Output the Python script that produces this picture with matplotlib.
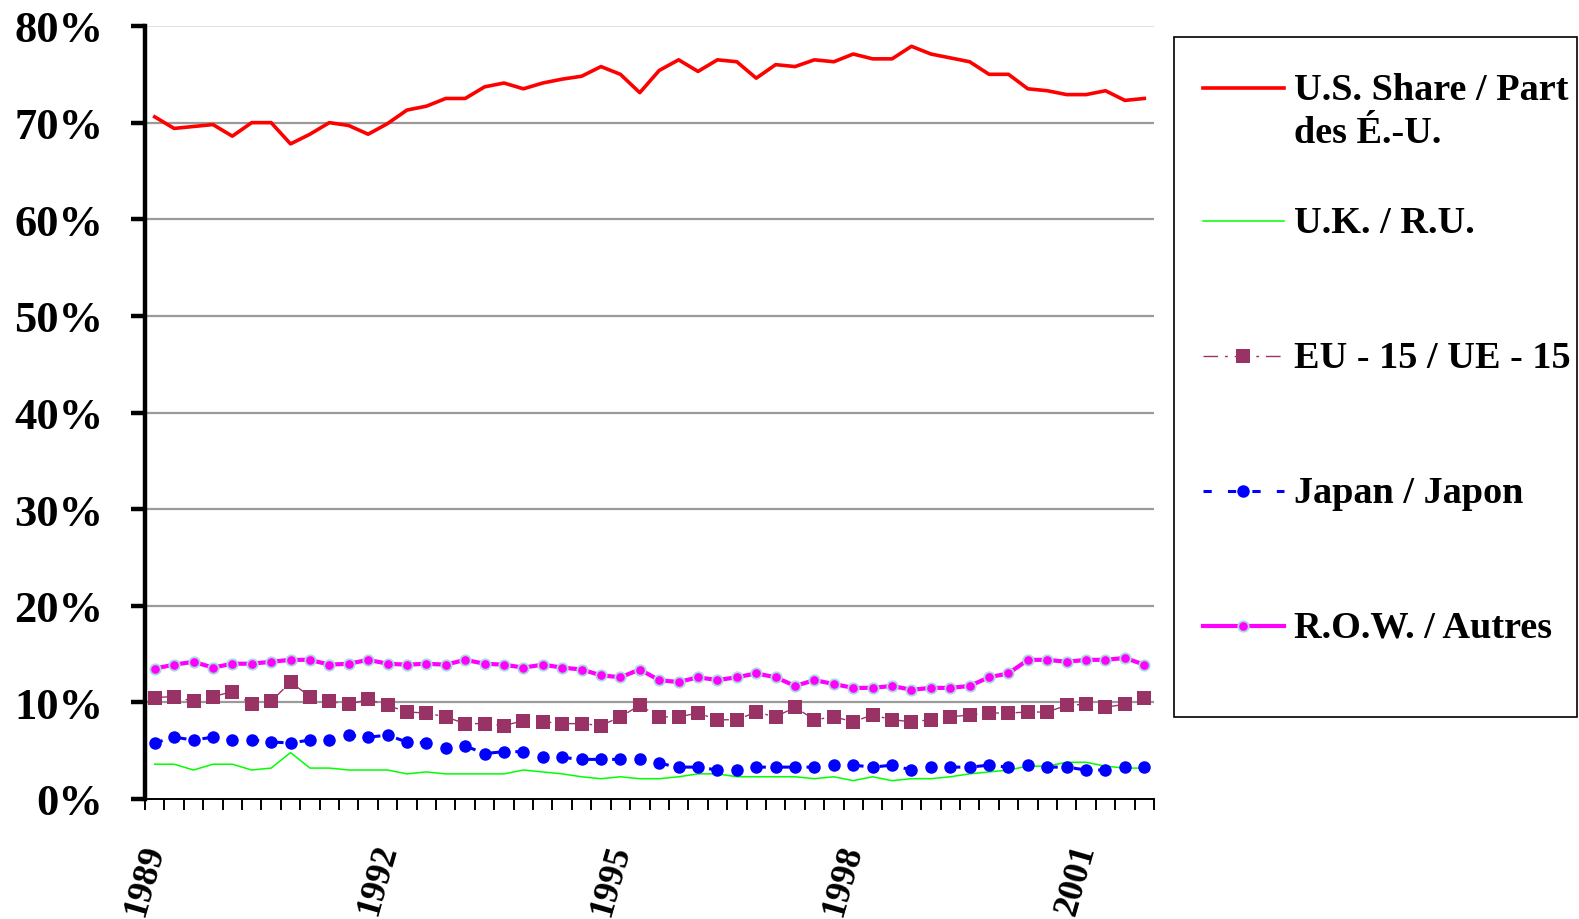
import matplotlib
matplotlib.use("Agg")
import matplotlib.pyplot as plt
from matplotlib.lines import Line2D
from matplotlib.patches import Rectangle
from matplotlib.ticker import FixedLocator, FuncFormatter

# quarterly shares of world total, per cent, 1989Q1 - 2001Q4
years = list(range(1989, 2002))
labelled_years = [1989, 1992, 1995, 1998, 2001]

us_share = [70.6, 69.4, 69.6, 69.8, 68.6, 70.0, 70.0, 67.8, 68.8, 70.0,
            69.7, 68.8, 69.9, 71.3, 71.7, 72.5, 72.5, 73.7, 74.1, 73.5,
            74.1, 74.5, 74.8, 75.8, 75.0, 73.1, 75.4, 76.5, 75.3, 76.5,
            76.3, 74.6, 76.0, 75.8, 76.5, 76.3, 77.1, 76.6, 76.6, 77.9,
            77.1, 76.7, 76.3, 75.0, 75.0, 73.5, 73.3, 72.9, 72.9, 73.3,
            72.3, 72.5]
uk = [3.6, 3.6, 3.0, 3.6, 3.6, 3.0, 3.2, 4.8, 3.2, 3.2,
      3.0, 3.0, 3.0, 2.6, 2.8, 2.6, 2.6, 2.6, 2.6, 3.0,
      2.8, 2.6, 2.3, 2.1, 2.3, 2.1, 2.1, 2.3, 2.6, 2.6,
      2.3, 2.3, 2.3, 2.3, 2.1, 2.3, 1.9, 2.3, 1.9, 2.1,
      2.1, 2.3, 2.6, 2.8, 3.0, 3.4, 3.4, 3.8, 3.8, 3.4,
      3.2, 3.2]
eu15 = [10.5, 10.6, 10.1, 10.6, 11.1, 9.8, 10.1, 12.1, 10.6, 10.1,
        9.8, 10.3, 9.7, 9.0, 8.9, 8.5, 7.8, 7.8, 7.6, 8.1,
        8.0, 7.8, 7.8, 7.6, 8.5, 9.7, 8.5, 8.5, 8.9, 8.2,
        8.2, 9.0, 8.5, 9.5, 8.2, 8.5, 8.0, 8.7, 8.2, 8.0,
        8.2, 8.5, 8.7, 8.9, 8.9, 9.0, 9.0, 9.7, 9.8, 9.5,
        9.8, 10.5]
japan = [5.8, 6.4, 6.1, 6.4, 6.1, 6.1, 5.9, 5.8, 6.1, 6.1,
         6.6, 6.4, 6.6, 5.9, 5.8, 5.3, 5.5, 4.7, 4.9, 4.9,
         4.3, 4.3, 4.1, 4.1, 4.1, 4.1, 3.7, 3.3, 3.3, 3.0,
         3.0, 3.3, 3.3, 3.3, 3.3, 3.5, 3.5, 3.3, 3.5, 3.0,
         3.3, 3.3, 3.3, 3.5, 3.3, 3.5, 3.3, 3.3, 3.0, 3.0,
         3.3, 3.3]
row = [13.5, 13.9, 14.2, 13.6, 14.0, 14.0, 14.2, 14.4, 14.4, 13.9,
       14.0, 14.4, 14.0, 13.9, 14.0, 13.9, 14.4, 14.0, 13.9, 13.6,
       13.9, 13.6, 13.4, 12.8, 12.6, 13.4, 12.3, 12.1, 12.6, 12.3,
       12.6, 13.0, 12.6, 11.7, 12.3, 11.9, 11.5, 11.5, 11.7, 11.3,
       11.5, 11.5, 11.7, 12.6, 13.0, 14.4, 14.4, 14.2, 14.4, 14.4,
       14.6, 13.9]

labels = ["U.S. Share / Part\ndes É.-U.", "U.K. / R.U.", "EU - 15 / UE - 15",
          "Japan / Japon", "R.O.W. / Autres"]

plt.rcParams['font.family'] = ['Liberation Serif', 'DejaVu Serif']
plt.rcParams['font.weight'] = 'bold'

W, H = 1579, 920


def fx(x):
    return x / W


def fy(y):
    return 1 - y / H


fig = plt.figure(figsize=(W / 100, H / 100), dpi=100)
ax = fig.add_axes([fx(145), fy(800), (1154 - 145) / W, (800 - 27) / H])

q = list(range(len(us_share)))

styles = [
    dict(color='#FF0000', lw=2.6, ls='-'),
    dict(color='#00FF00', lw=1.1, ls='-'),
    dict(color='#993366', lw=1.0, ls=(0, (10.5, 5, 2, 5)), marker='s',
         markersize=10.5, markeredgewidth=0),
    dict(color='#0000FF', lw=2.2, ls=(0, (2.7, 5.3)), marker='o',
         markersize=9, markeredgewidth=0),
    dict(color='#FF00FF', lw=3.0, ls='-', marker='o', markersize=7.5,
         markeredgecolor='#A9D9DC', markeredgewidth=1.3),
]
series = [us_share, uk, eu15, japan, row]

for vals, st in zip(series, styles):
    ax.plot(q, vals, **st, zorder=3)

ax.set_xlim(-0.5, len(q) - 0.5)
ax.set_ylim(0, 80)

# gridlines
for v in range(10, 80, 10):
    ax.axhline(v, color='#9A9A9A', lw=1.6, zorder=1)
ax.axhline(80, color='#DDDDDD', lw=1.2, zorder=1)

for s in ['top', 'right']:
    ax.spines[s].set_visible(False)
ax.spines['left'].set_linewidth(3.2)
ax.spines['bottom'].set_linewidth(1.4)

ax.set_yticks(range(0, 81, 10))
ax.yaxis.set_major_formatter(FuncFormatter(lambda v, p: f"{int(v)}%"))
ax.tick_params(axis='y', direction='out', length=10, width=3.2,
               labelsize=32, pad=20)

label_pos = [(y - 1989) * 4 for y in labelled_years]
ax.set_xticks(label_pos)
ax.set_xticklabels([str(y) for y in labelled_years])
ax.xaxis.set_minor_locator(FixedLocator([i - 0.5 for i in range(len(q) + 1)]))
ax.tick_params(axis='x', which='major', length=0, labelsize=26, pad=33)
ax.tick_params(axis='x', which='minor', direction='out', length=8, width=1.4)
for t in ax.get_xticklabels():
    t.set_rotation(74)
    t.set_rotation_mode('anchor')
    t.set_ha('right')
    t.set_va('center')
for t in ax.get_xticklabels() + ax.get_yticklabels():
    t.set_fontweight('bold')

# legend box
fig.add_artist(Rectangle((fx(1174), fy(718)), (1577 - 1174) / W, (718 - 38) / H,
                         transform=fig.transFigure, fill=False,
                         edgecolor='black', lw=1.2))
entry_y = [89, 222, 357, 492, 627]
for lab, st, ey in zip(labels, styles, entry_y):
    xs = [fx(1203), fx(1243), fx(1284)]
    ys = [fy(ey)] * 3
    handle = Line2D(xs, ys, transform=fig.transFigure, markevery=[1], **st)
    fig.add_artist(handle)
    fig.text(fx(1294), fy(ey - 16), lab, fontsize=27.5, fontweight='bold',
             ha='left', va='top', linespacing=1.28)

fig.savefig("out.png", dpi=100)
